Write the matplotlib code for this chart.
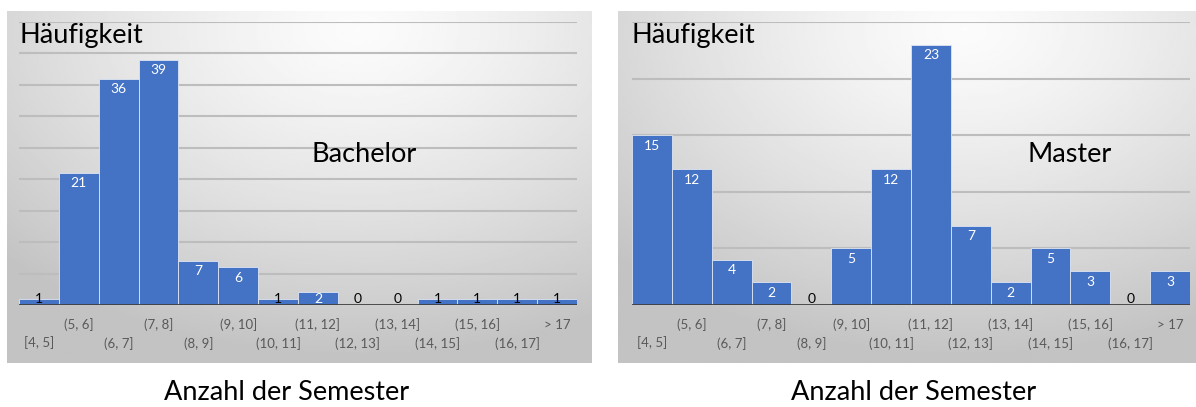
import numpy as np
import matplotlib
matplotlib.use('Agg')
import matplotlib.pyplot as plt
from matplotlib.transforms import blended_transform_factory

plt.rcParams['font.family'] = ['Lato', 'DejaVu Sans']

# semester bins shared by both histograms
bins = ['[4, 5]', '(5, 6]', '(6, 7]', '(7, 8]', '(8, 9]', '(9, 10]', '(10, 11]',
        '(11, 12]', '(12, 13]', '(13, 14]', '(14, 15]', '(15, 16]', '(16, 17]', '> 17']
bachelor = [1, 21, 36, 39, 7, 6, 1, 2, 0, 0, 1, 1, 1, 1]
master = [15, 12, 4, 2, 0, 5, 12, 23, 7, 2, 5, 3, 0, 3]

W, H = 1196, 407
BAR = '#4472C4'

fig = plt.figure(figsize=(W / 100, H / 100), dpi=100)
fig.patch.set_facecolor('white')


def px_box(x0, y0, x1, y1):
    # pixel box (top-left origin) -> figure fraction rect
    return [x0 / W, 1 - y1 / H, (x1 - x0) / W, (y1 - y0) / H]


def backdrop(rect):
    ax = fig.add_axes(rect, zorder=0)
    yy, xx = np.mgrid[0:1:200j, 0:1:300j]
    d = np.sqrt(((xx - 0.6) / 1.0) ** 2 + ((yy - 0.05) / 1.1) ** 2)
    d = np.clip(d / 0.85, 0, 1)
    shade = 0.985 - 0.22 * d ** 1.3
    ax.imshow(shade, cmap='gray', vmin=0, vmax=1, aspect='auto',
              extent=(0, 1, 1, 0), interpolation='bilinear')
    ax.set_axis_off()


def histogram(rect, values, ymax, name, name_xy):
    ax = fig.add_axes(rect, zorder=1)
    ax.patch.set_alpha(0)
    x = np.arange(len(values))
    ax.bar(x, values, width=1.0, color=BAR, edgecolor='#dfe6f3', linewidth=0.6, zorder=2)
    ax.set_xlim(-0.5, len(values) - 0.5)
    ax.set_ylim(0, ymax)
    for g in range(5, ymax + 1, 5):
        ax.axhline(g, color='#bdbdbd', lw=1.5, zorder=1)
    ax.axhline(0, color='#3f3f3f', lw=2, zorder=3)
    for s in ax.spines.values():
        s.set_visible(False)
    ax.set_xticks([])
    ax.set_yticks([])

    # value labels: inside the bar top, pushed up to the baseline for thin bars
    ax_h = rect[3] * H
    ppu = ax_h / ymax
    for xi, v in zip(x, values):
        h = v * ppu
        off = -min(10.5, h - 6) * 0.72
        col = 'white' if v > 1 else 'black'
        ax.annotate(str(v), (xi, v), xytext=(0, off), textcoords='offset points',
                    ha='center', va='center', fontsize=10, color=col, zorder=4)

    # staggered category labels
    tr = blended_transform_factory(ax.transData, ax.transAxes)
    for i, lab in enumerate(bins):
        dy = -14.4 if i % 2 else -27.4
        ax.annotate(lab, (i, 0), xycoords=tr, xytext=(0, dy), textcoords='offset points',
                    ha='center', va='center', fontsize=9.5, color='#595959')

    fig.text(name_xy[0] / W, 1 - name_xy[1] / H, name, fontsize=19.5,
             ha='left', va='center', color='black')
    return ax


backdrop(px_box(7, 11, 592, 363))
backdrop(px_box(618, 11, 1196, 363))

histogram(px_box(19, 22, 577, 305), bachelor, 45, 'Bachelor', (312, 155))
histogram(px_box(632, 22, 1190, 305), master, 25, 'Master', (1028, 155))

for x0 in (19, 632):
    fig.text(x0 / W, 1 - 35 / H, 'Häufigkeit', fontsize=19.5, ha='left', va='center')

for xc in (287, 914):
    fig.text(xc / W, 1 - 393 / H, 'Anzahl der Semester', fontsize=19.5,
             ha='center', va='center')

fig.savefig('out.png', dpi=100)
